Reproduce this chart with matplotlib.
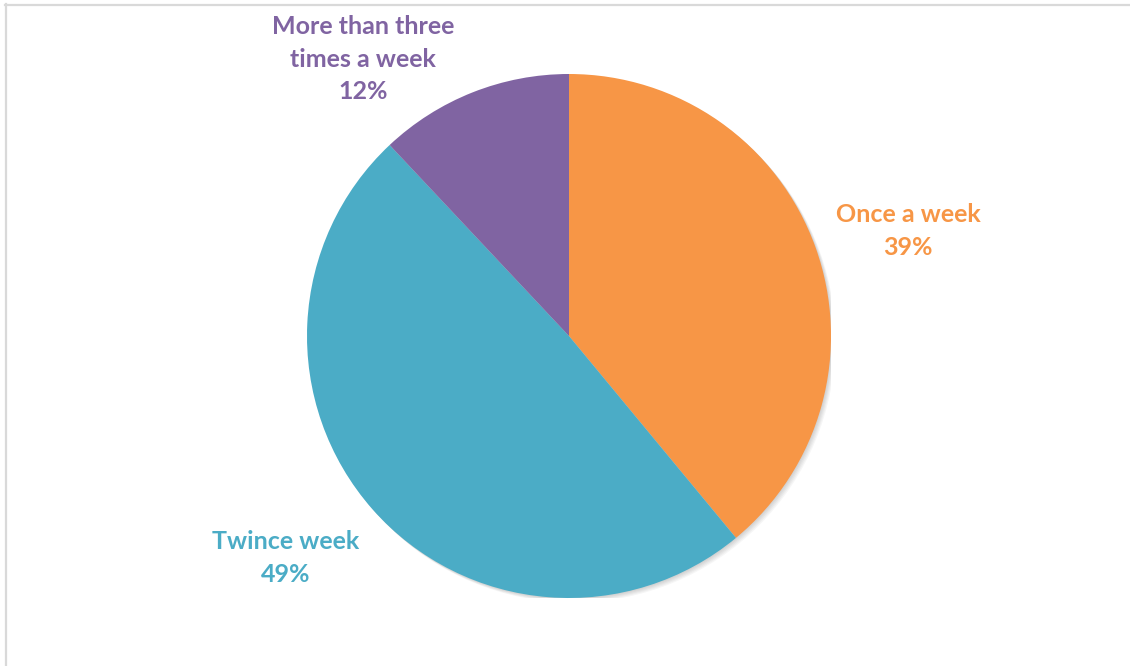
import matplotlib
matplotlib.use("Agg")
import matplotlib.pyplot as plt
from matplotlib.lines import Line2D
from matplotlib.patches import Circle

# how often, share of answers (percent)
labels = ["Once a week", "Twince week", "More than three\ntimes a week"]
shares = [39, 49, 12]
colors = ["#F79646", "#4BACC6", "#8064A2"]

# where each label sits, in pie units (radius = 1)
label_pos = [(1.294, 0.400), (-1.080, -0.848), (-0.786, 1.057)]

W, H = 1130, 666
fig = plt.figure(figsize=(W / 100, H / 100), dpi=100)
fig.patch.set_facecolor("white")

cx, cy, r = 569, 336, 262
ax = fig.add_axes([(cx - r) / W, (H - cy - r) / H, 2 * r / W, 2 * r / H])

# soft shadow under the pie
for k in range(1, 6):
    ax.add_patch(Circle((k * 0.9 / r, -k * 0.9 / r), 1.0, color="black",
                        alpha=0.035, lw=0, zorder=0))

wedges, _ = ax.pie(shares, colors=colors, startangle=90, counterclock=False,
                   radius=1.0, wedgeprops=dict(linewidth=0))
for w in wedges:
    w.set_zorder(2)

ax.set_xlim(-1, 1)
ax.set_ylim(-1, 1)
ax.set_aspect("equal")
ax.axis("off")

for lab, val, col, (x, y) in zip(labels, shares, colors, label_pos):
    ax.text(x, y, f"{lab}\n{val}%", color=col, ha="center", va="center",
            fontsize=18, fontweight="bold", family="Lato",
            linespacing=1.5, clip_on=False)

# chart frame (left and top edges show)
fig.add_artist(Line2D([5.5 / W, 5.5 / W], [0, 1 - 4 / H], color="#d9d9d9",
                      lw=1.6, transform=fig.transFigure))
fig.add_artist(Line2D([5 / W, 1], [1 - 4.5 / H, 1 - 4.5 / H], color="#d9d9d9",
                      lw=1.6, transform=fig.transFigure))

fig.savefig("out.png", dpi=100)
